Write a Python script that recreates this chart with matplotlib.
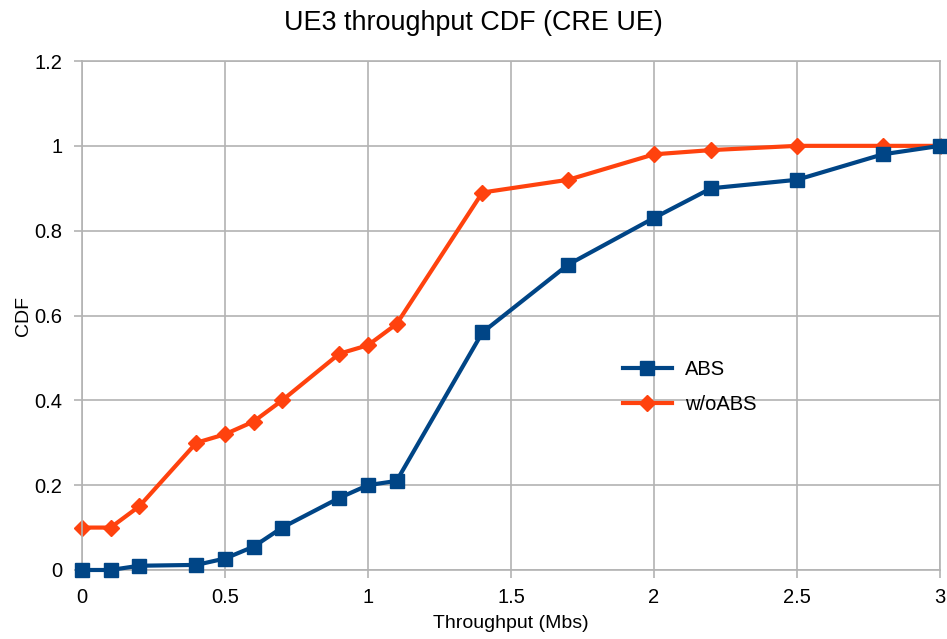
import matplotlib
matplotlib.use("Agg")
import matplotlib.pyplot as plt

# throughput [Mbs]
throughput = [0, 0.1, 0.2, 0.4, 0.5, 0.6, 0.7, 0.9, 1.0, 1.1, 1.4, 1.7, 2.0, 2.2, 2.5, 2.8, 3.0]
cdf_abs = [0, 0, 0.01, 0.012, 0.027, 0.055, 0.1, 0.17, 0.2, 0.21, 0.56, 0.72, 0.83, 0.9, 0.92, 0.98, 1.0]
cdf_woabs = [0.1, 0.1, 0.15, 0.3, 0.32, 0.35, 0.4, 0.51, 0.53, 0.58, 0.89, 0.92, 0.98, 0.99, 1.0, 1.0, 1.0]

plt.rcParams["font.family"] = ["Liberation Sans", "DejaVu Sans"]

fig = plt.figure(figsize=(9.47, 6.39), dpi=100)
ax = fig.add_axes([0.0866, 0.108, 0.906, 0.7965])

ax.plot(throughput, cdf_abs, color="#004586", lw=3, marker="s", ms=10, label="ABS",
        clip_on=False, zorder=3)
ax.plot(throughput, cdf_woabs, color="#ff420e", lw=3, marker="D", ms=8, label="w/oABS",
        clip_on=False, zorder=2)

ax.set_xlim(0, 3)
ax.set_ylim(0, 1.2)
ax.set_xticks([0, 0.5, 1, 1.5, 2, 2.5, 3])
ax.set_xticklabels(["0", "0.5", "1", "1.5", "2", "2.5", "3"])
ax.set_yticks([0, 0.2, 0.4, 0.6, 0.8, 1.0, 1.2])
ax.set_yticklabels(["0", "0.2", "0.4", "0.6", "0.8", "1", "1.2"])
ax.grid(True, color="#b3b3b3", lw=1.2)
ax.set_axisbelow(True)
for s in ax.spines.values():
    s.set_color("#b3b3b3")
    s.set_linewidth(1.2)
ax.tick_params(colors="#b3b3b3", labelcolor="black", labelsize=14.5, length=6, width=1.2)
ax.tick_params(axis="x", pad=7)
ax.tick_params(axis="y", pad=8)

ax.set_xlabel("Throughput (Mbs)", fontsize=14, labelpad=6)
ax.set_ylabel("CDF", fontsize=14, labelpad=2)
fig.suptitle("UE3 throughput CDF (CRE UE)", fontsize=19.4, y=0.985)

ax.legend(loc="center left", bbox_to_anchor=(0.63, 0.36), frameon=False, fontsize=14.5,
          handlelength=2.45, handletextpad=0.65, labelspacing=0.8, borderpad=0, borderaxespad=0)

fig.savefig("out.png", dpi=100)
